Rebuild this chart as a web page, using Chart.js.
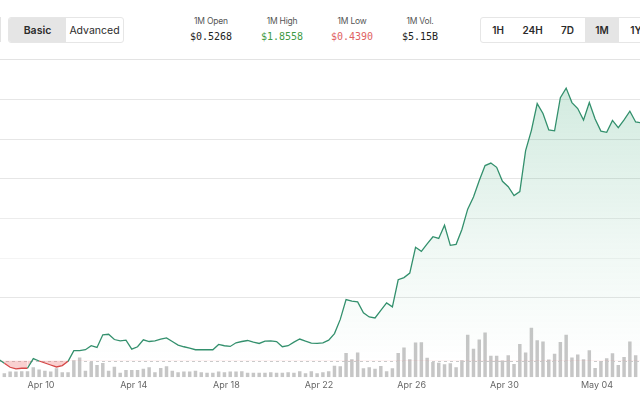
<!DOCTYPE html>
<html>
<head>
<meta charset="utf-8">
<script src="https://cdn.jsdelivr.net/npm/chart.js@4.4.1/dist/chart.umd.min.js"></script>
<style>
  html, body { margin: 0; padding: 0; background: #fff; width: 640px; height: 395px; overflow: hidden; font-family: Inter, "Noto Sans", sans-serif; }
  .top { position: absolute; left: 0; top: 0; width: 640px; height: 59px; border-bottom: 1px solid #e3e3e3; }
  .seg { position: absolute; top: 17px; height: 24px; display: flex; border: 1px solid #e6e6e6; border-radius: 3px; overflow: hidden; }
  .seg div { display: flex; align-items: center; justify-content: center; font-size: 10.5px; color: #2b2b2b; }
  .seg .on { background: #e5e5e5; font-weight: 600; }
  .range div { font-weight: 600; font-size: 10px; }
  .edge { position: absolute; left: 0; top: 17px; width: 1px; height: 25px; background: #e3e3e3; }
  .stat { position: absolute; top: 16px; width: 80px; margin-left: -40px; text-align: center; }
  .stat .k { font-size: 8.5px; color: #555; letter-spacing: -0.2px; }
  .stat .v { font-family: "DejaVu Sans Mono", monospace; font-size: 10px; margin-top: 5px; color: #222; }
  #c { position: absolute; left: 0; top: 60px; }
</style>
</head>
<body>
<div class="top">
  <div class="edge"></div>
  <div class="seg" style="left:8px">
    <div class="on" style="width:57px">Basic</div>
    <div style="width:57px">Advanced</div>
  </div>
  <div class="stat" style="left:211px"><div class="k">1M Open</div><div class="v">$0.5268</div></div>
  <div class="stat" style="left:282px"><div class="k">1M High</div><div class="v" style="color:#3f9a45">$1.8558</div></div>
  <div class="stat" style="left:352px"><div class="k">1M Low</div><div class="v" style="color:#e06262">$0.4390</div></div>
  <div class="stat" style="left:420px"><div class="k">1M Vol.</div><div class="v">$5.15B</div></div>
  <div class="seg range" style="left:480px">
    <div style="width:34px">1H</div>
    <div style="width:35px">24H</div>
    <div style="width:35px">7D</div>
    <div class="on" style="width:34px">1M</div>
    <div style="width:34px">1Y</div>
  </div>
</div>
<canvas id="c" width="640" height="335"></canvas>
<script>
// 6-hour samples, hours counted from Apr 10 00:00
const START_H = -44;
const STEP_H = 6;
const OPEN = 0.5268;

const PRICES = [
  0.5331, 0.5138, 0.4944, 0.4862, 0.4896, 0.4896, 0.5365, 0.5250,
  0.5152, 0.5055, 0.4959, 0.5026, 0.5234, 0.5751, 0.5751, 0.5799,
  0.5993, 0.5911, 0.6524, 0.6553, 0.6297, 0.6234, 0.6263, 0.5828,
  0.5944, 0.6282, 0.6200, 0.6234, 0.6311, 0.6379, 0.6200, 0.6022,
  0.5944, 0.5877, 0.5799, 0.5799, 0.5799, 0.5799, 0.6055, 0.5993,
  0.5959, 0.6138, 0.6200, 0.6249, 0.6167, 0.6104, 0.6215, 0.6234,
  0.6200, 0.5944, 0.5993, 0.6167, 0.6321, 0.6215, 0.6118, 0.6104,
  0.6138, 0.6263, 0.6587, 0.7278, 0.8244, 0.8167, 0.8133, 0.7601,
  0.7394, 0.7345, 0.7712, 0.8084, 0.7891, 0.9210, 0.9316, 0.9534,
  1.0790, 1.0597, 1.0959, 1.1307, 1.1225, 1.1867, 1.0886, 1.0935,
  1.1659, 1.2650, 1.3239, 1.4051, 1.4775, 1.4896, 1.4688, 1.4007,
  1.3746, 1.3316, 1.3510, 1.5500, 1.6490, 1.7794, 1.7311, 1.6514,
  1.6466, 1.8084, 1.8550, 1.7843, 1.7553, 1.6997, 1.7843, 1.7046,
  1.6456, 1.6394, 1.6973, 1.6621, 1.6997, 1.7423, 1.6901, 1.6852
];

// volume per 6h, $M
const VOLUMES = [
  null, 13, 18, 18, 19, 19, 32, 25,
  21, 18, 29, 16, 16, 55, 64, 21,
  50, 39, 46, 21, 34, 14, 23, 23,
  23, 27, 32, 16, 30, 35, 21, 16,
  18, 18, 21, 16, 14, 14, 18, 16,
  18, 18, 19, 14, 14, 14, 14, 16,
  14, 14, 16, 14, 19, 13, 19, 13,
  16, 19, 37, 35, 78, 58, 80, 29,
  32, 27, 36, 19, 29, 78, 96, 58,
  112, 113, 63, 49, 47, 42, 45, 32,
  55, 137, 92, 122, 144, 69, 69, 54,
  71, 43, 107, 80, 160, 119, 115, 57,
  76, 114, 137, 64, 73, 58, 87, 30,
  52, 61, 77, 39, 65, 115, 71, null
];

const TICK_HOURS = [0, 96, 192, 288, 384, 480, 576];
const TICK_LABELS = ["Apr 10", "Apr 14", "Apr 18", "Apr 22", "Apr 26", "Apr 30", "May 04"];

const HOURS = PRICES.map((_, i) => START_H + i * STEP_H);

const GREEN = "#33906d";
const RED = "#d64848";

const openLine = {
  id: "openLine",
  beforeDatasetsDraw(chart) {
    const { ctx, chartArea } = chart;
    const y = Math.round(chart.scales.y.getPixelForValue(OPEN)) + 0.5;
    ctx.save();
    ctx.strokeStyle = "#cacaca";
    ctx.lineWidth = 1;
    ctx.setLineDash([3, 3]);
    ctx.beginPath();
    ctx.moveTo(chartArea.left, y);
    ctx.lineTo(chartArea.right, y);
    ctx.stroke();
    ctx.restore();
  }
};

const gridColors = ["rgba(0,0,0,0)", "rgba(0,0,0,0)", "#e6e6e6", "#f4f4f4", "#ececec", "#e6e6e6", "#e6e6e6", "#e6e6e6", "rgba(0,0,0,0)"];

new Chart(document.getElementById("c"), {
  data: {
    labels: HOURS,
    datasets: [
      {
        type: "line",
        data: PRICES,
        yAxisID: "y",
        order: 1,
        borderWidth: 1.3,
        tension: 0,
        pointRadius: 0,
        segment: {
          borderColor: (s) => (s.p0.parsed.y < OPEN && s.p1.parsed.y < OPEN ? RED : GREEN)
        },
        borderColor: GREEN,
        backgroundColor: (c) => {
          const chart = c.chart;
          if (!chart.chartArea || !chart.scales.y) return "rgba(51,160,110,0.1)";
          const base = chart.scales.y.getPixelForValue(OPEN);
          const g = chart.ctx.createLinearGradient(0, chart.chartArea.top, 0, base);
          g.addColorStop(0, "rgba(46,160,108,0.24)");
          g.addColorStop(0.6, "rgba(46,160,108,0.08)");
          g.addColorStop(1, "rgba(46,160,108,0.0)");
          return g;
        },
        fill: { target: { value: OPEN }, below: "rgba(235,100,100,0.3)" }
      },
      {
        type: "bar",
        data: VOLUMES,
        yAxisID: "vol",
        order: 2,
        backgroundColor: "#c6c6c6",
        categoryPercentage: 1,
        barPercentage: 0.6
      }
    ]
  },
  options: {
    responsive: false,
    devicePixelRatio: 1,
    animation: false,
    layout: { padding: { left: 0, right: 0, top: 0, bottom: 1 } },
    plugins: { legend: { display: false }, tooltip: { enabled: false } },
    scales: {
      x: {
        type: "linear",
        min: -42.5,
        max: 620.5,
        offset: false,
        grid: { display: false, drawTicks: false },
        border: { display: false },
        afterBuildTicks: (scale) => {
          scale.ticks = TICK_HOURS.map((v) => ({ value: v }));
        },
        ticks: {
          autoSkip: false,
          maxRotation: 0,
          padding: 3,
          color: "#666",
          font: { family: "Inter", size: 9 },
          callback: (v) => TICK_LABELS[TICK_HOURS.indexOf(v)]
        }
      },
      y: {
        position: "left",
        min: 0.446,
        max: 1.992,
        ticks: { display: false, count: 9 },
        grid: { drawTicks: false, color: (c) => gridColors[c.index] },
        border: { display: false }
      },
      vol: {
        display: false,
        min: 0,
        max: 1024
      }
    }
  },
  plugins: [openLine]
});
</script>
</body>
</html>
